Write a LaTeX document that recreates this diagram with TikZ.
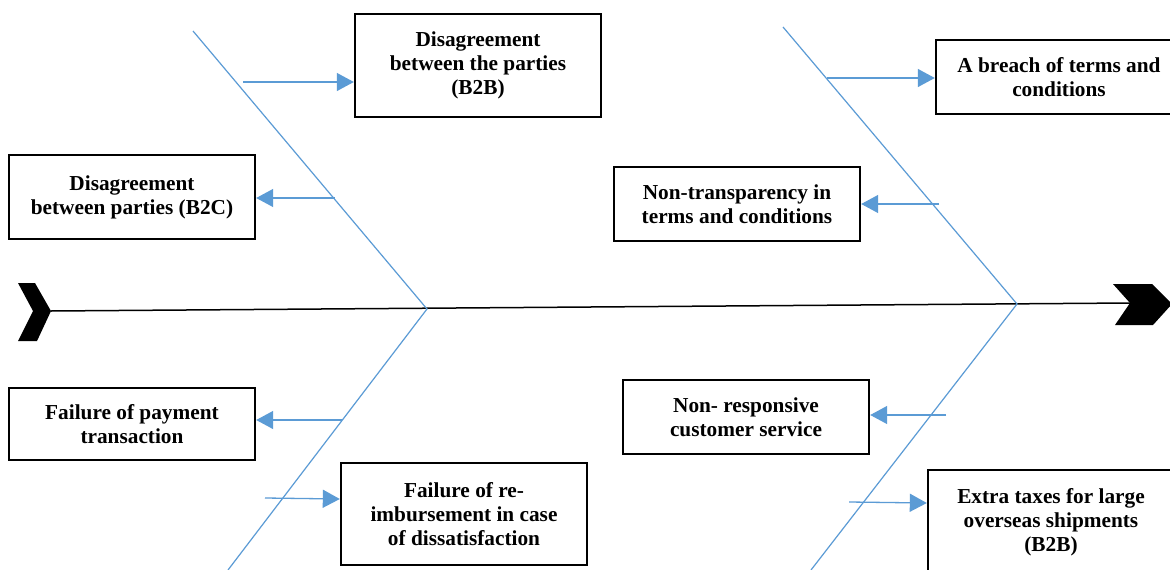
\documentclass[tikz,border=0pt]{standalone}
\usepackage{fontspec}
\setmainfont{Liberation Serif}
\usetikzlibrary{arrows.meta}
\definecolor{fishblue}{HTML}{5B9BD5}
\tikzset{
  causebox/.style={draw=black, line width=2.4pt, fill=white, align=center, inner sep=0pt,
    font=\fontsize{21.3}{24.2}\selectfont\bfseries},
  bone/.style={draw=fishblue, line width=1.2pt},
  arr/.style={draw=fishblue, line width=1.3pt, -{Triangle[length=17pt,width=18pt]}},
  spine/.style={draw=black, line width=1.5pt}
}
\begin{document}
\begin{tikzpicture}[x=1pt,y=-1pt]
\useasboundingbox (0,0) rectangle (1170,570);
\clip (0,0) rectangle (1170,570);
\fill[white] (0,0) rectangle (1170,570);

% spine
\coordinate (tail) at (51,311);
\coordinate (head) at (1130,303);
\coordinate (j1) at (427,309);
\coordinate (j2) at (1017,304);
\draw[spine] (tail) -- (head);
\fill[black] (18,283) -- (35,283) -- (51,311) -- (37,341) -- (18,341) -- (33,311) -- cycle;
\fill[black] (1113,284) -- (1152,284) -- (1172,304) -- (1153,325) -- (1115,325) -- (1130,303) -- cycle;

% bones
\coordinate (u1) at (193,31);
\coordinate (l1) at (228,570);
\coordinate (u2) at (783,27);
\coordinate (l2) at (811,570);
\draw[bone] (u1) -- (j1) -- (l1);
\draw[bone] (u2) -- (j2) -- (l2);

% boxes
\node[causebox, minimum width=246pt, minimum height=103pt] (b1) at (478,65.5)
  {Disagreement\\between the parties\\(B2B)};
\node[causebox, minimum width=246pt, minimum height=84pt] (b2) at (132,197)
  {Disagreement\\between parties (B2C)};
\node[causebox, minimum width=246pt, minimum height=74pt] (b3) at (1059,77)
  {A breach of terms and\\conditions};
\node[causebox, minimum width=246pt, minimum height=74pt] (b4) at (737,204)
  {Non-transparency in\\terms and conditions};
\node[causebox, minimum width=246pt, minimum height=72pt] (b5) at (132,424)
  {Failure of payment\\transaction};
\node[causebox, minimum width=246pt, minimum height=102pt] (b6) at (464,514)
  {Failure of re-\\imbursement in case\\of dissatisfaction};
\node[causebox, minimum width=246pt, minimum height=74pt] (b7) at (746,417)
  {Non- responsive\\customer service};
\node[causebox, minimum width=246pt, minimum height=104pt] (b8) at (1051,522)
  {Extra taxes for large\\overseas shipments\\(B2B)};

% arrows
\coordinate (s1) at (243,82);
\coordinate (s2) at (335,198);
\coordinate (s3) at (827,78);
\coordinate (s4) at (939,204);
\coordinate (s5) at (342,420);
\coordinate (s6) at (265,498);
\coordinate (s7) at (946,415);
\coordinate (s8) at (849,502);
\draw[arr] (s1) -- (b1.west |- s1);
\draw[arr] (s2) -- (b2.east |- s2);
\draw[arr] (s3) -- (b3.west |- s3);
\draw[arr] (s4) -- (b4.east |- s4);
\draw[arr] (s5) -- (b5.east |- s5);
\draw[arr] (s6) -- ([yshift=-1pt]b6.west |- s6);
\draw[arr] (s7) -- (b7.east |- s7);
\draw[arr] (s8) -- ([yshift=-1pt]b8.west |- s8);
\end{tikzpicture}
\end{document}
